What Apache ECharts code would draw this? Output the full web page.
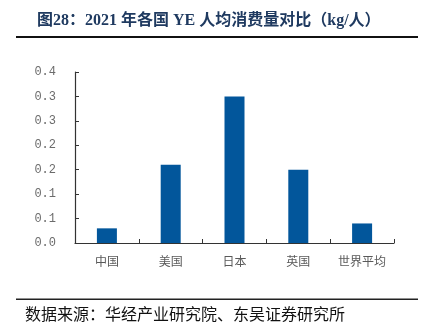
<!DOCTYPE html>
<html>
<head>
<meta charset="utf-8">
<script src="https://cdn.jsdelivr.net/npm/echarts@6/dist/echarts.min.js"></script>
<style>
  html, body { margin: 0; padding: 0; background: #fff; }
  #chart { width: 426px; height: 335px; }
</style>
</head>
<body>
<div id="chart"></div>
<script>
// Per-capita YE consumption by country, 2021 (kg per person)
const categories = ['中国', '美国', '日本', '英国', '世界平均'];
const consumption = [0.03, 0.16, 0.30, 0.15, 0.04];
// Ticks every 0.05, shown with one decimal
const yTickLabels = ['0.0', '0.1', '0.1', '0.2', '0.2', '0.3', '0.3', '0.4'];

const titleText = '图28：2021 年各国 YE 人均消费量对比（kg/人）';
const sourceText = '数据来源：华经产业研究院、东吴证券研究所';

const chart = echarts.init(document.getElementById('chart'), null, { renderer: 'canvas' });

chart.setOption({
  animation: false,
  backgroundColor: '#ffffff',
  graphic: [
    {
      type: 'text', left: 37, top: 13,
      style: {
        text: titleText,
        font: 'bold 16px "Liberation Serif", "Noto Sans CJK SC"',
        fill: '#1f3a60'
      }
    },
    {
      type: 'rect', shape: { x: 16, y: 36, width: 402, height: 2 },
      style: { fill: '#111' }
    },
    {
      type: 'rect', shape: { x: 16, y: 298.5, width: 402, height: 1.5 },
      style: { fill: '#222' }
    },
    {
      type: 'text', left: 25, top: 306,
      style: {
        text: sourceText,
        font: '16px "Noto Sans CJK SC"',
        fill: '#111'
      }
    }
  ],
  grid: {
    left: 75, right: 32, top: 72, bottom: 92,
    containLabel: false,
    outerBoundsMode: 'none'
  },
  xAxis: {
    type: 'category',
    data: categories,
    axisLine: { lineStyle: { color: '#333', width: 1.2 } },
    axisTick: { show: true, inside: true, length: 4, alignWithLabel: false, lineStyle: { color: '#333' } },
    axisLabel: {
      margin: 12,
      color: '#595959',
      fontSize: 12,
      fontFamily: '"Noto Sans CJK SC"'
    },
    splitLine: { show: false }
  },
  yAxis: {
    type: 'value',
    min: 0,
    max: 0.35,
    interval: 0.05,
    axisLine: { show: true, lineStyle: { color: '#333', width: 1.2 } },
    axisTick: { show: true, inside: true, length: 4, lineStyle: { color: '#333' } },
    splitLine: { show: false },
    axisLabel: {
      margin: 19,
      color: '#6b6b6b',
      fontSize: 12,
      fontFamily: '"Liberation Mono"',
      padding: [4, 0, 0, 0],
      formatter: function (v) { return yTickLabels[Math.round(v / 0.05)]; }
    }
  },
  series: [
    {
      type: 'bar',
      data: consumption,
      barWidth: 20,
      itemStyle: { color: '#02569b' }
    }
  ]
});
</script>
</body>
</html>
